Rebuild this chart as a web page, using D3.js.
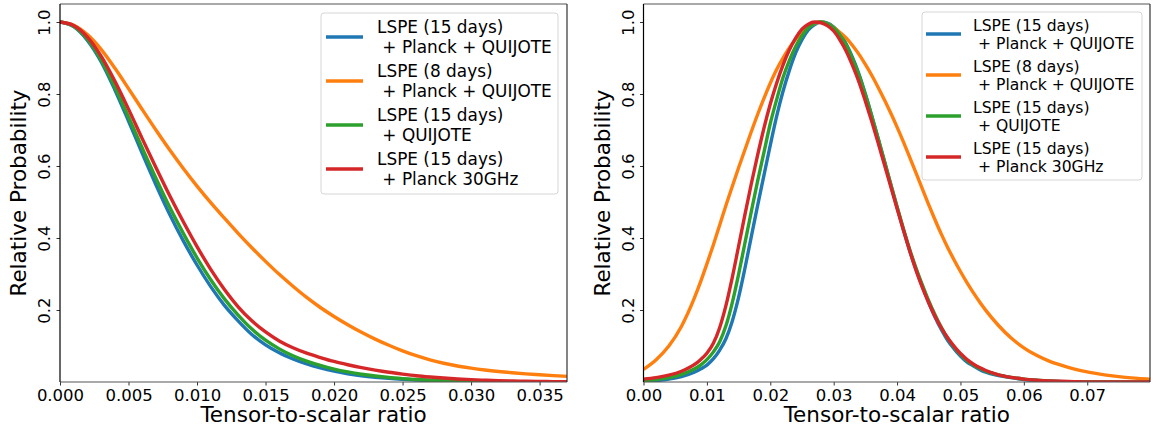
<!DOCTYPE html>
<html><head><meta charset="utf-8">
<script src="https://cdn.jsdelivr.net/npm/d3@7"></script>
<style>body{margin:0;background:#fff}svg{display:block}text{font-family:"DejaVu Sans",sans-serif}</style>
</head><body>
<svg id="c" width="1156" height="428"></svg>
<script>
// ---------- DATA ----------
const seriesNames = ["LSPE (15 days)\n + Planck + QUIJOTE","LSPE (8 days)\n + Planck + QUIJOTE","LSPE (15 days)\n + QUIJOTE","LSPE (15 days)\n + Planck 30GHz"];
const seriesColors = ["#1f77b4","#ff7f0e","#2ca02c","#d62728"];
const xLabel = "Tensor-to-scalar ratio";
const yLabel = "Relative Probability";
const yTicks = [0.2,0.4,0.6,0.8,1.0];
const leftXTicks = [0,0.005,0.01,0.015,0.02,0.025,0.03,0.035];
const rightXTicks = [0,0.01,0.02,0.03,0.04,0.05,0.06,0.07];

// Left panel: x grid (0 .. 0.037 step 0.001)
const leftX = [0,0.001,0.002,0.003,0.004,0.005,0.006,0.007,0.008,0.009,0.010,0.011,0.012,0.013,0.014,0.015,0.016,0.017,0.018,0.019,0.020,0.021,0.022,0.023,0.024,0.025,0.026,0.027,0.028,0.029,0.030,0.031,0.032,0.033,0.034,0.035,0.036,0.037];
const leftBlue   = [1.0,0.987,0.949,0.89,0.812,0.725,0.635,0.548,0.466,0.392,0.325,0.265,0.213,0.17,0.132,0.103,0.081,0.064,0.05,0.039,0.03,0.023,0.0175,0.0133,0.01,0.0075,0.0055,0.004,0.003,0.002,0.0015,0.001,0.0007,0.0005,0.0003,0.0002,0.0001,0];
const leftOrange = [1.0,0.991,0.965,0.924,0.872,0.815,0.757,0.70,0.645,0.593,0.544,0.498,0.455,0.413,0.373,0.335,0.299,0.266,0.235,0.207,0.182,0.159,0.138,0.119,0.102,0.0865,0.073,0.0615,0.052,0.0445,0.0385,0.0335,0.0293,0.0257,0.0226,0.02,0.0177,0.0157];
const leftGreen  = [1.0,0.988,0.952,0.895,0.82,0.736,0.65,0.566,0.486,0.413,0.345,0.284,0.231,0.186,0.147,0.116,0.092,0.073,0.058,0.046,0.036,0.028,0.0215,0.0165,0.0125,0.0095,0.007,0.005,0.0037,0.0027,0.002,0.0014,0.001,0.0007,0.0005,0.0003,0.0002,0.0001];
const leftRed    = [1.0,0.99,0.958,0.905,0.836,0.758,0.676,0.596,0.518,0.445,0.376,0.313,0.257,0.209,0.17,0.139,0.114,0.095,0.08,0.068,0.057,0.048,0.04,0.033,0.027,0.022,0.0175,0.014,0.011,0.0085,0.0065,0.005,0.0038,0.0028,0.002,0.0014,0.001,0.0007];

// Right panel: x grid
const rightX = [0,0.002,0.004,0.006,
 0.008,0.009,0.010,0.011,0.012,0.013,0.014,0.015,0.016,0.017,0.018,0.019,0.020,0.021,0.022,0.023,0.024,0.025,0.026,0.027,0.028,0.029,0.030,0.031,0.032,0.033,0.034,0.035,0.036,0.037,0.038,0.039,0.040,0.041,0.042,0.043,0.044,0.045,0.046,0.047,0.048,0.049,0.050,0.051,0.052,0.053,0.054,
 0.056,0.058,0.060,0.062,0.064,0.066,0.068,0.070,0.072,0.074,0.076,0.078,0.080];
const rightBlue = [0.002,0.004,0.008,0.015,
 0.027,0.036,0.047,0.064,0.088,0.12,0.169,0.235,0.316,0.403,0.49,0.574,0.658,0.738,0.807,0.865,0.914,0.951,0.978,0.993,1.0,0.997,0.986,0.967,0.938,0.9,0.855,0.8,0.74,0.677,0.613,0.548,0.485,0.423,0.364,0.312,0.265,0.22,0.18,0.145,0.115,0.092,0.072,0.056,0.045,0.035,0.027,
 0.018,0.012,0.007,0.004,0.002,0.001,0,0,0,0,0,0,0];
const rightOrange = [0.035,0.062,0.1,0.155,
 0.232,0.278,0.328,0.38,0.435,0.49,0.543,0.595,0.645,0.695,0.743,0.788,0.83,0.868,0.9,0.928,0.952,0.971,0.986,0.996,1.0,0.995,0.985,0.971,0.955,0.934,0.91,0.882,0.852,0.819,0.784,0.747,0.708,0.667,0.624,0.58,0.536,0.492,0.45,0.41,0.373,0.339,0.307,0.277,0.249,0.223,0.199,
 0.157,0.122,0.095,0.074,0.058,0.046,0.036,0.028,0.022,0.017,0.013,0.01,0.008];
const rightGreen = [0.004,0.007,0.012,0.021,
 0.036,0.047,0.062,0.083,0.111,0.156,0.22,0.299,0.386,0.473,0.558,0.638,0.718,0.784,0.845,0.893,0.932,0.962,0.984,0.997,1.0,0.996,0.984,0.964,0.935,0.897,0.852,0.798,0.739,0.677,0.614,0.55,0.487,0.426,0.368,0.316,0.269,0.225,0.186,0.151,0.121,0.097,0.077,0.06,0.048,0.038,0.03,
 0.02,0.013,0.008,0.005,0.003,0.001,0.001,0,0,0,0,0,0];
const rightRed = [0.008,0.012,0.019,0.03,
 0.048,0.062,0.08,0.107,0.15,0.212,0.29,0.377,0.465,0.55,0.63,0.705,0.772,0.83,0.88,0.922,0.955,0.98,0.994,1.0,0.998,0.99,0.975,0.95,0.918,0.878,0.833,0.78,0.724,0.665,0.604,0.543,0.482,0.422,0.364,0.31,0.262,0.22,0.182,0.15,0.122,0.099,0.079,0.063,0.05,0.04,0.032,
 0.02,0.013,0.008,0.005,0.003,0.002,0.001,0,0,0,0,0,0];

// ---------- DRAW ----------
const svg = d3.select("#c");
const FONT = '"DejaVu Sans", sans-serif';

function panel(cfg){
  const g = svg.append("g");
  const x = d3.scaleLinear().domain(cfg.xDomain).range([cfg.x0, cfg.x1]);
  const y = d3.scaleLinear().domain([0,1.05]).range([cfg.y1, cfg.y0]);
  const clipId = "clip"+cfg.id;
  svg.append("defs").append("clipPath").attr("id",clipId)
    .append("rect").attr("x",cfg.x0).attr("y",cfg.y0).attr("width",cfg.x1-cfg.x0).attr("height",cfg.y1-cfg.y0);

  // curves
  const line = d3.line().x(d=>x(d[0])).y(d=>y(d[1])).curve(d3.curveMonotoneX);
  const cg = g.append("g").attr("clip-path",`url(#${clipId})`);
  cfg.series.forEach((s,i)=>{
    cg.append("path").datum(cfg.xs.map((v,k)=>[v,s[k]]))
      .attr("d",line).attr("fill","none").attr("stroke",seriesColors[i])
      .attr("stroke-width",3.4).attr("stroke-linejoin","round").attr("stroke-linecap","butt");
  });

  // x axis
  const xa = g.append("g").attr("transform",`translate(0,${cfg.y1})`)
    .call(d3.axisBottom(x).tickValues(cfg.xTicks).tickFormat(d3.format(cfg.fmt)).tickSizeOuter(0).tickSize(3.5).tickPadding(4));
  xa.select(".domain").remove();
  xa.selectAll("text").attr("font-family",FONT).attr("font-size",16.5).attr("fill","#000").attr("dy","0.71em");
  xa.selectAll("line").attr("stroke","#333");
  // y axis
  const ya = g.append("g").attr("transform",`translate(${cfg.x0},0)`)
    .call(d3.axisLeft(y).tickValues(yTicks).tickFormat(d3.format(".1f")).tickSizeOuter(0).tickSize(3.5));
  ya.select(".domain").remove();
  ya.selectAll("line").attr("stroke","#333");
  ya.selectAll("text").attr("font-family",FONT).attr("font-size",16.5).attr("fill","#000")
    .attr("x",null).attr("dy",null).attr("text-anchor","middle")
    .attr("transform","translate(-10,0) rotate(-90)");

  // spines
  g.append("line").attr("x1",cfg.x0).attr("x2",cfg.x1).attr("y1",cfg.y0).attr("y2",cfg.y0).attr("stroke","#555").attr("stroke-width",1.2);
  g.append("line").attr("x1",cfg.x0).attr("x2",cfg.x1).attr("y1",cfg.y1).attr("y2",cfg.y1).attr("stroke","#555").attr("stroke-width",1.2);
  g.append("line").attr("x1",cfg.x1).attr("x2",cfg.x1).attr("y1",cfg.y0).attr("y2",cfg.y1).attr("stroke","#333").attr("stroke-width",1.2);
  g.append("line").attr("x1",cfg.x0).attr("x2",cfg.x0).attr("y1",cfg.y0).attr("y2",cfg.y1).attr("stroke","#000").attr("stroke-width",1.2);

  // axis labels
  g.append("text").attr("x",(cfg.x0+cfg.x1)/2).attr("y",421.5).attr("text-anchor","middle")
    .attr("font-family",FONT).attr("font-size",21.5).attr("fill","#000").text(xLabel);
  g.append("text").attr("transform",`translate(${cfg.x0-34},${(cfg.y0+cfg.y1)/2}) rotate(-90)`)
    .attr("text-anchor","middle").attr("font-family",FONT).attr("font-size",21.5).attr("fill","#000").text(yLabel);

  // legend
  const L = cfg.legend;
  g.append("rect").attr("x",L.x).attr("y",L.y).attr("width",L.w).attr("height",L.h).attr("rx",3)
    .attr("fill","#fff").attr("fill-opacity",0.8).attr("stroke","#d6d6d6").attr("stroke-width",1);
  seriesNames.forEach((name,i)=>{
    const hy = L.firstY + i*L.pitch;
    g.append("line").attr("x1",L.hx0).attr("x2",L.hx1).attr("y1",hy).attr("y2",hy)
      .attr("stroke",seriesColors[i]).attr("stroke-width",3.4);
    const lines = name.split("\n");
    lines.forEach((t,j)=>{
      g.append("text").attr("x",L.tx).attr("y",hy + (j===0?-L.ls/2:L.ls/2) + L.fs*0.36)
        .attr("font-family",FONT).attr("font-size",L.fs).attr("fill","#000")
        .style("white-space","pre").text(t);
    });
  });
}

panel({id:"L", x0:60, x1:567, y0:4, y1:382, xDomain:[0,0.037], xs:leftX,
  series:[leftBlue,leftOrange,leftGreen,leftRed], xTicks:leftXTicks, fmt:".3f",
  legend:{x:321,y:13,w:237,h:181,firstY:37,pitch:44,hx0:326,hx1:363,tx:377,fs:16.9,ls:19.5}});
panel({id:"R", x0:643.5, x1:1150, y0:4, y1:382, xDomain:[0,0.0799], xs:rightX,
  series:[rightBlue,rightOrange,rightGreen,rightRed], xTicks:rightXTicks, fmt:".2f",
  legend:{x:922,y:12,w:220,h:168,firstY:34,pitch:41,hx0:926,hx1:961,tx:973,fs:15.6,ls:18}});
</script>
</body></html>
